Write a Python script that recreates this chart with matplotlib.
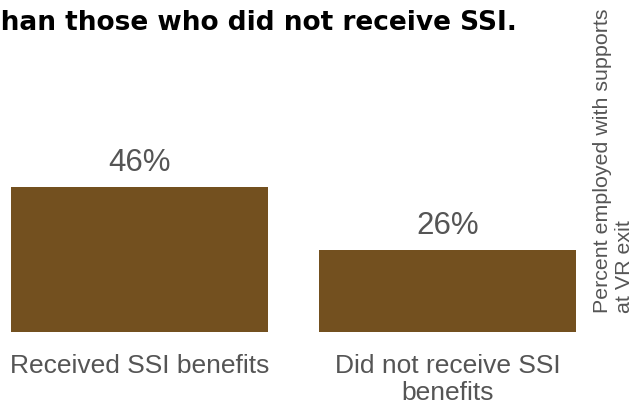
import matplotlib
matplotlib.use('Agg')
import matplotlib.pyplot as plt

plt.rcParams['font.family'] = ['Liberation Sans', 'DejaVu Sans']

categories = ['Received SSI benefits', 'Did not receive SSI\nbenefits']
percents = [46, 26]
title = 'than those who did not receive SSI.'
ylabel = 'Percent employed with supports\nat VR exit'

bar_color = '#73501f'
text_gray = '#555555'

fig = plt.figure(figsize=(6.39, 4.06), dpi=100)
# axes in pixel terms: x 0..590, y from 73 px (bottom) up to 60 px below top
ax = fig.add_axes([0, 73 / 406, 590 / 639, 273 / 406])

xs = list(range(len(categories)))
ax.bar(xs, percents, width=0.834, color=bar_color)

for x, v in zip(xs, percents):
    ax.annotate(f'{v}%', (x, v), xytext=(0, 12), textcoords='offset points',
                ha='center', va='baseline', fontsize=22.5, color=text_gray)

ax.set_xlim(-139.5 / 308, (590 - 139.5) / 308)
ax.set_ylim(0, 273 / 3.15)
ax.set_xticks(xs)
ax.set_xticklabels(categories, fontsize=19, color=text_gray, linespacing=1.18)
ax.tick_params(axis='x', length=0, pad=15)
ax.set_yticks([])
for s in ax.spines.values():
    s.set_visible(False)

fig.text(517 / 639, 1 - 30 / 406, title, ha='right', va='baseline',
         fontsize=19, fontweight='bold', color='black', family='DejaVu Sans')
fig.text(614 / 639, 93 / 406, ylabel, rotation=90, ha='center', va='bottom',
         multialignment='left', fontsize=15.4, color=text_gray)

fig.savefig('out.png', dpi=100)
